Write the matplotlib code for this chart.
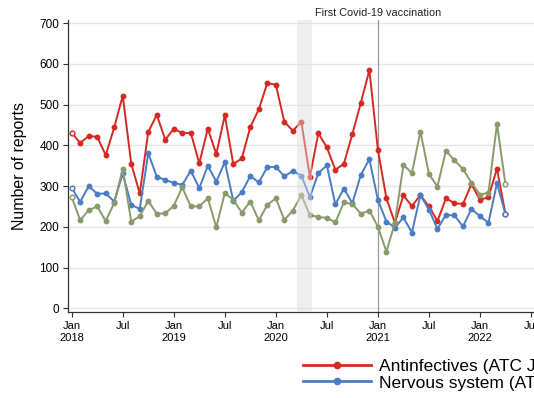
import matplotlib.pyplot as plt
from matplotlib.lines import Line2D

# Monthly counts, Jan 2018 - Apr 2022
antinfectives = [431, 406, 423, 421, 376, 444, 522, 355, 282, 433, 475, 414,
                 441, 430, 431, 356, 441, 379, 474, 354, 368, 445, 489, 553,
                 549, 458, 436, 458, 323, 430, 395, 340, 355, 428, 505, 585,
                 389, 270, 210, 277, 251, 278, 250, 214, 270, 258, 256, 305,
                 266, 273, 343, 231]
nervous = [296, 261, 300, 281, 282, 262, 331, 254, 244, 381, 323, 315,
           308, 303, 338, 295, 350, 311, 359, 264, 285, 325, 309, 347,
           347, 324, 337, 326, 273, 332, 351, 255, 294, 258, 328, 366,
           266, 213, 198, 223, 186, 278, 242, 195, 229, 228, 201, 244,
           226, 210, 307, 231]
other = [273, 216, 241, 250, 214, 259, 342, 213, 226, 264, 232, 233,
         252, 297, 250, 250, 270, 199, 283, 266, 235, 262, 216, 254,
         270, 217, 240, 278, 229, 224, 222, 211, 260, 256, 232, 240,
         200, 139, 210, 352, 332, 434, 330, 299, 387, 363, 342, 308,
         279, 284, 453, 304]

series_labels = ["Antinfectives (ATC J)", "Nervous system (ATC N)"]
tick_labels = ["Jan\n2018", "Jul", "Jan\n2019", "Jul", "Jan\n2020", "Jul",
               "Jan\n2021", "Jul", "Jan\n2022", "Jul"]

RED = "#d42a22"
BLUE = "#4a7dc6"
OLIVE = "#8b9a6c"

plt.rcParams['font.family'] = ['Liberation Sans', 'DejaVu Sans']


def plot_series(ax, values, color):
    x = list(range(len(values)))
    ax.plot(x, values, color=color, lw=1.4, marker='o', ms=3.2,
            markevery=range(1, len(values) - 1), zorder=2)
    # first and last month drawn as open circles
    ax.plot([x[0], x[-1]], [values[0], values[-1]], ls='none', marker='o',
            ms=3.4, mfc='#f4f4f4', mec=color, mew=1.0, zorder=2)


fig = plt.figure(figsize=(5.34, 3.98), dpi=100)
ax = fig.add_axes([0.1279, 0.2153, 0.8824, 0.7344])

plot_series(ax, antinfectives, RED)
plot_series(ax, nervous, BLUE)
plot_series(ax, other, OLIVE)

# lockdown period, drawn over the lines so they fade
ax.axvspan(26.5, 28.3, color='#dbdbdb', alpha=0.45, lw=0, zorder=3)

# first vaccination
ax.axvline(36, color='#9a9a9a', lw=0.9, zorder=1.5)
ax.text(36, 1.008, "First Covid-19 vaccination", transform=ax.get_xaxis_transform(),
        ha='center', va='bottom', fontsize=7.8, color='#222222')

ax.set_xlim(-0.4, 55)
ax.set_ylim(-10, 708)
ax.set_xticks(range(0, 55, 6))
ax.set_xticklabels(tick_labels, fontsize=8)
ax.set_yticks(range(0, 701, 100))
ax.tick_params(axis='y', labelsize=8.5)
ax.tick_params(axis='both', direction='out', length=3.6, width=0.8,
               color='#333333', pad=3)
ax.set_ylabel("Number of reports", fontsize=11.4, labelpad=9)

ax.yaxis.grid(True, color='#e6e6e6', lw=1.0)
ax.set_axisbelow(True)
for side in ['top', 'right']:
    ax.spines[side].set_visible(False)
for side in ['left', 'bottom']:
    ax.spines[side].set_color('#333333')
    ax.spines[side].set_linewidth(0.9)

handles = [Line2D([], [], color=RED, lw=2.0, marker='o', ms=4.5),
           Line2D([], [], color=BLUE, lw=2.0, marker='o', ms=4.5)]
fig.legend(handles, series_labels, loc='center left',
           bbox_to_anchor=(303 / 534, 1 - 374.5 / 398), frameon=False,
           fontsize=12.5, handlelength=3.9, handletextpad=0.5,
           labelspacing=0.1, borderpad=0, borderaxespad=0)

fig.savefig("out.png", dpi=100)
